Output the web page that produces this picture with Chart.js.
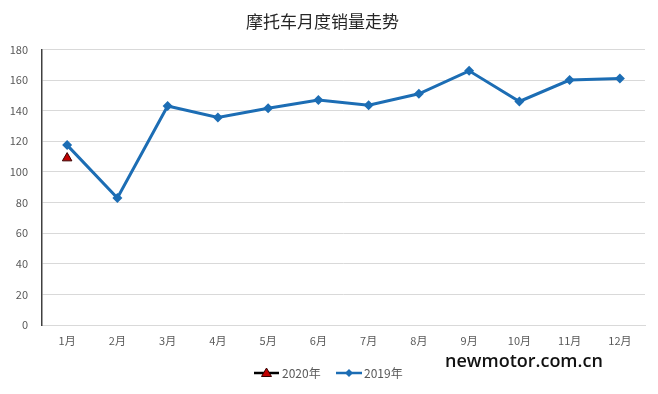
<!DOCTYPE html>
<html><head><meta charset="utf-8">
<script src="https://cdn.jsdelivr.net/npm/chart.js@4/dist/chart.umd.min.js"></script>
<style>
html,body{margin:0;padding:0;background:#fff;}
#wrap{position:relative;width:658px;height:394px;}
#mark{position:absolute;left:445px;top:348px;font-family:"Open Sans",sans-serif;font-weight:600;font-size:18px;color:#111;letter-spacing:0px;line-height:24px;}
</style></head>
<body>
<div id="wrap"><canvas id="c" width="658" height="394"></canvas><div id="mark">newmotor.com.cn</div></div>
<script>
const categories = ['1月','2月','3月','4月','5月','6月','7月','8月','9月','10月','11月','12月'];
const sales2019 = [117.5, 83, 143, 135.5, 141.5, 147, 143.5, 151, 166, 146, 160, 161];
const sales2020 = [109, null, null, null, null, null, null, null, null, null, null, null];
const seriesNames = ['2020年','2019年'];
const titleText = '摩托车月度销量走势';

const BLUE = '#1C6DB4';
const font = '"Noto Sans CJK SC", "Noto Sans", sans-serif';

const legendPlugin = {
  id: 'customLegend',
  afterDraw(chart) {
    const ctx = chart.ctx;
    const y = 373;
    ctx.save();
    ctx.font = '12px ' + font;
    ctx.fillStyle = '#595959';
    ctx.textBaseline = 'middle';
    // 2020
    ctx.strokeStyle = '#000'; ctx.lineWidth = 2.5;
    ctx.beginPath(); ctx.moveTo(254, y); ctx.lineTo(279, y); ctx.stroke();
    ctx.fillStyle = '#C00000'; ctx.strokeStyle = '#300'; ctx.lineWidth = 1;
    ctx.beginPath(); ctx.moveTo(266.5, y-5); ctx.lineTo(271.5, y+3.5); ctx.lineTo(261.5, y+3.5); ctx.closePath(); ctx.fill(); ctx.stroke();
    ctx.fillStyle = '#595959';
    ctx.fillText(seriesNames[0], 282, y);
    // 2019
    ctx.strokeStyle = BLUE; ctx.lineWidth = 2.5;
    ctx.beginPath(); ctx.moveTo(336, y); ctx.lineTo(362, y); ctx.stroke();
    ctx.fillStyle = BLUE;
    ctx.beginPath(); ctx.moveTo(349, y-4); ctx.lineTo(353, y); ctx.lineTo(349, y+4); ctx.lineTo(345, y); ctx.closePath(); ctx.fill();
    ctx.fillStyle = '#595959';
    ctx.fillText(seriesNames[1], 364, y);
    ctx.restore();
  }
};

new Chart(document.getElementById('c'), {
  type: 'line',
  data: {
    labels: categories,
    datasets: [
      {
        label: seriesNames[0], data: sales2020,
        borderColor: '#000', backgroundColor: '#C00000',
        pointStyle: 'triangle', pointRadius: 5.5, pointBorderColor: '#3a0000', pointBorderWidth: 1,
        showLine: false, order: 0
      },
      {
        label: seriesNames[1], data: sales2019,
        borderColor: BLUE, backgroundColor: BLUE, borderWidth: 3,
        pointStyle: 'rectRot', pointRadius: 5, pointBorderWidth: 0,
        tension: 0, order: 1
      }
    ]
  },
  options: {
    responsive: false, animation: false,
    layout: { padding: { left: 0, right: 13, top: 0, bottom: 0 } },
    plugins: {
      legend: { display: false },
      tooltip: { enabled: false },
      title: {
        display: true, text: titleText, color: '#262626',
        font: { family: font, size: 17, weight: 'normal' },
        padding: { top: 11, bottom: 18 }
      }
    },
    scales: {
      x: {
        offset: true,
        grid: { display: false, drawTicks: false },
        border: { display: true, color: '#d9d9d9', width: 1 },
        ticks: { color: '#595959', font: { family: font, size: 11 }, padding: 9, maxRotation: 0, autoSkip: false },
        afterFit(s) { s.height = 69; }
      },
      y: {
        min: 0, max: 180,
        ticks: { stepSize: 20, color: '#595959', font: { family: font, size: 11 }, padding: 14 },
        grid: { color: '#d9d9d9', drawTicks: false },
        border: { display: true, color: '#404040', width: 1.5 },
        afterFit(s) { s.width = 42; }
      }
    }
  },
  plugins: [legendPlugin]
});
</script>
</body></html>
